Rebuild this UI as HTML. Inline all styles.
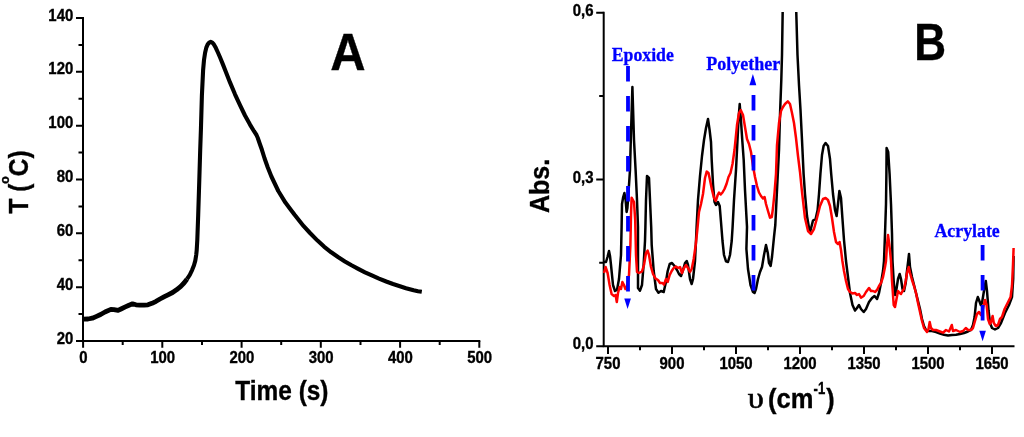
<!DOCTYPE html>
<html><head><meta charset="utf-8"><title>Figure</title>
<style>
html,body{margin:0;padding:0;background:#fff;}
body{width:1024px;height:437px;overflow:hidden;}
svg{display:block;filter:blur(0.45px);}
.sb{font-family:"Liberation Sans",Arial,sans-serif;font-weight:bold;fill:#000;stroke:#000;stroke-width:0.35px;}
.tb{font-family:"Liberation Serif","Times New Roman",serif;font-weight:bold;fill:#0000ff;stroke:#0000ff;stroke-width:0.3px;}
</style></head><body>
<svg width="1024" height="437" viewBox="0 0 1024 437">
<rect width="1024" height="437" fill="#fff"/>

<g stroke="#000" stroke-width="2" fill="none" stroke-linecap="butt">
<path d="M83.0 17.0V341.0H480.3"/>
<path d="M76.0 341.0H83.0M76.0 287.2H83.0M76.0 233.3H83.0M76.0 179.5H83.0M76.0 125.7H83.0M76.0 71.8H83.0M76.0 18.0H83.0M78.5 314.1H83.0M78.5 260.2H83.0M78.5 206.4H83.0M78.5 152.6H83.0M78.5 98.7H83.0M78.5 44.9H83.0M83.1 341.0V347.8M162.3 341.0V347.8M241.6 341.0V347.8M320.8 341.0V347.8M400.1 341.0V347.8M479.3 341.0V347.8M122.7 341.0V345.0M202.0 341.0V345.0M281.2 341.0V345.0M360.5 341.0V345.0M439.7 341.0V345.0"/>
</g>
<text class="sb" font-size="16" text-anchor="end" transform="translate(73.3 343.5) scale(0.935 1)" >20</text>
<text class="sb" font-size="16" text-anchor="end" transform="translate(73.3 289.7) scale(0.935 1)" >40</text>
<text class="sb" font-size="16" text-anchor="end" transform="translate(73.3 235.8) scale(0.935 1)" >60</text>
<text class="sb" font-size="16" text-anchor="end" transform="translate(73.3 182.0) scale(0.935 1)" >80</text>
<text class="sb" font-size="16" text-anchor="end" transform="translate(73.3 128.2) scale(0.935 1)" >100</text>
<text class="sb" font-size="16" text-anchor="end" transform="translate(73.3 74.3) scale(0.935 1)" >120</text>
<text class="sb" font-size="16" text-anchor="end" transform="translate(73.3 20.5) scale(0.935 1)" >140</text>
<text class="sb" font-size="16" text-anchor="middle" transform="translate(83.4 363.2) scale(0.935 1)" >0</text>
<text class="sb" font-size="16" text-anchor="middle" transform="translate(162.6 363.2) scale(0.935 1)" >100</text>
<text class="sb" font-size="16" text-anchor="middle" transform="translate(241.9 363.2) scale(0.935 1)" >200</text>
<text class="sb" font-size="16" text-anchor="middle" transform="translate(321.1 363.2) scale(0.935 1)" >300</text>
<text class="sb" font-size="16" text-anchor="middle" transform="translate(400.4 363.2) scale(0.935 1)" >400</text>
<text class="sb" font-size="16" text-anchor="middle" transform="translate(479.6 363.2) scale(0.935 1)" >500</text>
<text class="sb" font-size="27" text-anchor="middle" transform="translate(281.9 400.0) scale(0.905 1)" >Time (s)</text>
<text class="sb" font-size="27" text-anchor="middle" transform="translate(27.5 182) rotate(-90) scale(0.905 1)">T (<tspan font-size="13.5" dy="-18.3">o</tspan><tspan dy="18.3">C)</tspan></text>
<text class="sb" font-size="51" text-anchor="middle" transform="translate(347.8 70.1) scale(0.96 1)">A</text>
<polyline points="83.5,319.2 88.0,319.0 92.3,318.2 96.0,316.6 100.6,314.5 105.0,312.0 110.9,309.4 114.0,309.6 118.1,310.4 121.0,309.0 125.3,306.9 129.0,305.2 132.5,303.8 136.0,304.8 139.7,305.2 144.0,305.1 147.9,304.8 152.0,303.3 156.1,301.3 160.0,299.0 164.4,296.6 168.0,294.8 172.6,292.5 176.5,289.8 180.8,286.3 184.0,283.0 187.0,279.1" fill="none" stroke="#000" stroke-width="4.8" stroke-linejoin="round" stroke-linecap="butt"/>
<polyline points="187.0,279.1 189.8,274.8 192.2,269.8 194.0,265.2 195.3,260.6 196.2,255.0 196.7,250.3 197.3,240.0 198.2,215.0 199.3,180.0 200.2,150.0 200.9,129.9 201.9,95.4 203.1,70.3 204.0,60.0 205.1,52.7 206.3,47.6 207.7,44.4 209.2,42.6 210.7,41.9 212.3,42.6 213.9,44.4 215.8,47.8 217.7,52.0 220.0,57.3 223.0,64.6 226.0,72.2 230.0,82.4 235.0,94.3 240.0,105.2 245.0,115.5 250.0,124.6 254.0,131.2 256.5,135.0 257.8,138.0 259.5,143.0 261.9,149.8 264.6,158.5 267.8,167.5 271.4,176.5 278.3,191.0 285.4,202.6 290.4,209.2 294.6,214.8 303.7,226.2 310.0,233.0 317.5,240.6 324.0,246.6 331.2,252.3 338.0,257.0 344.9,261.4 351.5,265.3 358.7,269.1 365.0,272.3 372.4,275.7 379.0,278.6 386.2,281.5 393.0,284.0 399.9,286.2 406.0,288.2 413.6,290.3 418.0,291.2 421.8,291.8" fill="none" stroke="#000" stroke-width="4.1" stroke-linejoin="round" stroke-linecap="butt"/>
<g stroke="#000" stroke-width="2" fill="none">
<path d="M603.7 11.8V346.2H1014.5"/>
<path d="M596.2 346.2H603.7M596.2 179.5H603.7M596.2 12.8H603.7M599.2 262.8H603.7M599.2 96.1H603.7M608.0 346.2V354.0M672.0 346.2V354.0M736.0 346.2V354.0M800.0 346.2V354.0M864.0 346.2V354.0M928.0 346.2V354.0M992.0 346.2V354.0M640.0 346.2V350.2M704.0 346.2V350.2M768.0 346.2V350.2M832.0 346.2V350.2M896.0 346.2V350.2M960.0 346.2V350.2"/>
</g>
<text class="sb" font-size="16" text-anchor="end" transform="translate(593.5 349.2) scale(0.935 1)" >0,0</text>
<text class="sb" font-size="16" text-anchor="end" transform="translate(593.5 182.5) scale(0.935 1)" >0,3</text>
<text class="sb" font-size="16" text-anchor="end" transform="translate(593.5 15.8) scale(0.935 1)" >0,6</text>
<text class="sb" font-size="16" text-anchor="middle" transform="translate(608.0 368.8) scale(0.935 1)" >750</text>
<text class="sb" font-size="16" text-anchor="middle" transform="translate(672.0 368.8) scale(0.935 1)" >900</text>
<text class="sb" font-size="16" text-anchor="middle" transform="translate(736.0 368.8) scale(0.935 1)" >1050</text>
<text class="sb" font-size="16" text-anchor="middle" transform="translate(800.0 368.8) scale(0.935 1)" >1200</text>
<text class="sb" font-size="16" text-anchor="middle" transform="translate(864.0 368.8) scale(0.935 1)" >1350</text>
<text class="sb" font-size="16" text-anchor="middle" transform="translate(928.0 368.8) scale(0.935 1)" >1500</text>
<text class="sb" font-size="16" text-anchor="middle" transform="translate(992.0 368.8) scale(0.935 1)" >1650</text>
<text font-family="'Liberation Serif',serif" font-size="29" fill="#000" stroke="#000" stroke-width="0.6" transform="translate(747.8 408.4) scale(1.12 1)">υ</text>
<text class="sb" font-size="27" transform="translate(768.1 408.3) scale(0.945 1)">(cm</text>
<text class="sb" font-size="16" transform="translate(813.6 393.9) scale(0.82 1)">-1</text>
<text class="sb" font-size="27" transform="translate(826.2 408.3) scale(0.93 1)">)</text>
<text class="sb" font-size="27" text-anchor="middle" transform="translate(548.6 185.9) rotate(-90) scale(0.93 1)">Abs.</text>
<text class="sb" font-size="51" text-anchor="middle" transform="translate(930.2 59.9) scale(0.865 1)">B</text>
<clipPath id="cb"><rect x="603" y="12" width="412" height="335"/></clipPath>
<g clip-path="url(#cb)" fill="none" stroke-linejoin="round">
<polyline points="604.0,262.0 606.0,262.0 607.5,257.0 609.0,251.0 610.0,256.0 611.0,265.0 613.0,285.0 615.0,291.0 617.0,290.0 619.0,279.0 621.0,255.0 621.6,227.0 622.0,204.0 623.2,197.0 624.4,193.0 625.6,200.0 626.6,212.0 627.4,208.0 628.0,200.0 630.0,170.0 630.8,140.0 632.4,87.0 634.0,140.0 635.6,170.0 637.0,200.0 638.0,227.0 638.0,288.0 640.0,290.7 642.0,285.0 643.6,265.0 645.0,241.0 645.4,227.0 646.0,200.0 647.0,176.0 649.0,178.0 650.0,200.0 651.2,227.0 651.7,245.0 653.7,271.0 656.0,289.0 658.5,292.7 661.0,291.0 663.7,292.0 665.7,283.0 667.7,271.0 669.7,264.0 672.0,263.0 674.5,266.0 677.0,270.0 679.0,274.0 681.0,276.0 683.0,270.0 685.0,263.0 686.7,261.0 688.0,265.0 690.0,279.0 691.7,284.0 693.0,279.0 695.0,261.0 696.0,241.0 696.6,227.0 698.0,200.0 700.0,176.0 702.0,156.0 704.0,140.0 706.0,128.0 708.0,119.0 709.6,130.0 711.0,142.0 711.7,160.0 713.0,184.0 714.5,202.0 716.0,205.0 718.0,202.0 719.7,206.0 721.0,222.0 722.5,241.0 724.0,255.0 726.0,261.4 728.0,262.0 730.0,255.0 731.7,241.0 732.6,227.0 734.0,200.0 736.0,170.0 737.4,142.0 738.6,118.0 739.7,104.0 741.0,121.0 742.4,142.0 743.7,160.0 745.0,190.0 747.0,227.0 746.4,249.0 748.0,269.0 750.5,285.0 753.0,292.0 754.5,293.0 756.0,289.0 758.0,279.0 760.0,272.0 762.0,267.0 764.0,255.0 766.0,245.0 767.8,253.0 769.0,263.0 770.6,266.0 772.0,257.0 774.0,237.0 775.3,225.0 777.0,190.0 779.0,150.0 780.0,115.0 781.3,80.0 782.0,55.0 782.7,10.0 796.2,10.0 797.5,55.0 799.0,85.0 800.5,110.0 802.0,140.0 803.6,174.0 805.0,194.0 807.0,216.0 809.0,228.0 810.2,231.5 811.6,226.0 813.0,220.5 815.6,219.0 817.6,210.0 819.0,194.0 820.4,174.0 822.0,155.0 823.6,146.0 825.6,143.0 828.0,146.0 830.0,159.0 831.2,174.0 833.0,194.0 835.0,210.0 836.6,216.0 838.0,204.0 839.4,191.0 841.0,198.0 842.4,218.0 844.0,240.0 846.0,261.0 848.0,277.0 850.0,293.0 852.5,305.0 855.0,310.6 857.0,308.0 859.0,305.0 861.0,309.0 863.7,312.0 866.0,309.0 869.0,302.0 872.0,298.0 874.5,296.0 877.0,299.0 879.0,293.0 881.0,283.0 883.0,271.0 884.0,261.0 885.0,234.0 886.0,204.0 886.4,174.0 886.6,148.0 888.2,152.0 889.6,174.0 891.0,204.0 892.0,234.0 892.5,261.0 893.7,281.0 895.0,295.0 896.5,289.0 898.0,279.0 899.7,274.0 901.0,279.0 902.5,289.0 904.0,291.0 905.7,283.0 907.0,271.0 908.2,261.0 909.0,254.0 910.0,267.0 912.0,277.0 914.0,285.0 916.0,293.0 918.0,301.0 920.0,309.0 922.0,319.0 924.0,326.0 926.0,330.0 929.0,331.0 932.0,331.0 936.0,332.0 940.0,333.5 944.0,334.7 948.0,335.5 952.0,335.0 956.0,334.7 960.0,334.0 964.0,333.0 968.0,331.5 971.0,330.0 973.0,325.0 974.6,317.0 976.0,303.0 977.8,297.0 979.0,300.0 980.8,305.0 982.0,303.0 983.0,297.0 984.6,287.0 985.8,281.0 987.0,291.0 988.6,311.0 990.0,323.0 992.0,328.0 995.0,329.5 998.0,328.0 1001.0,323.0 1003.0,318.0 1005.0,313.0 1009.0,305.0 1012.0,297.0 1013.2,279.0 1013.6,256.0" stroke="#000" stroke-width="2.5"/>
<polyline points="604.0,273.0 605.6,267.0 607.6,273.0 609.6,285.0 611.6,294.0 614.0,296.0 615.6,295.0 616.8,302.0 618.0,293.0 619.6,287.0 621.0,289.0 622.4,282.0 624.0,285.0 625.4,289.0 627.0,287.0 629.0,275.0 630.4,245.0 631.0,215.0 631.6,197.7 634.0,202.0 635.2,220.0 636.0,255.0 637.0,272.0 639.0,273.0 642.0,271.4 644.0,265.0 646.0,253.0 647.6,250.6 649.0,255.0 651.0,267.0 653.0,274.0 655.6,278.6 658.0,280.0 660.0,283.0 662.5,283.0 664.0,284.6 666.0,279.0 667.7,282.0 669.7,275.0 671.7,271.0 673.7,268.0 676.0,266.6 678.0,268.0 680.0,267.0 682.0,273.0 684.0,268.0 686.0,265.0 688.0,268.0 690.0,272.0 691.7,269.0 693.7,259.0 695.7,245.0 697.4,229.0 699.0,212.0 701.0,204.0 703.0,194.0 705.0,178.0 706.7,171.6 708.5,173.0 710.0,180.0 712.0,190.0 714.0,198.0 715.7,201.0 717.7,195.0 719.0,192.5 720.7,194.5 722.5,192.5 724.5,189.0 726.5,184.0 728.5,177.0 730.5,173.0 732.5,164.0 734.5,150.0 737.0,125.0 739.0,113.0 740.7,110.0 743.0,115.0 745.0,127.0 747.0,139.0 749.0,144.0 751.0,152.0 753.0,166.0 755.0,177.0 757.0,186.0 759.0,192.5 761.0,196.0 763.0,198.5 764.6,197.0 766.0,204.0 768.0,211.0 770.0,217.7 771.8,217.0 773.0,208.0 774.6,192.0 776.0,174.0 777.0,145.0 779.0,123.0 781.0,111.0 783.0,107.0 785.0,104.0 787.8,101.4 790.0,104.0 792.0,113.0 794.0,123.0 796.0,138.0 798.0,156.0 800.0,172.0 802.0,192.0 805.0,218.0 808.0,231.0 811.0,234.0 814.0,229.0 817.0,218.0 820.0,206.0 823.0,199.0 825.6,198.0 828.0,200.0 830.0,206.0 832.0,218.0 834.0,232.0 836.0,242.0 838.0,244.0 839.6,242.0 841.0,250.0 842.4,261.0 844.0,271.0 846.0,281.0 848.0,289.0 850.0,292.0 852.5,293.4 855.0,293.0 857.0,295.0 859.0,294.0 861.0,297.6 863.7,296.0 866.0,292.0 869.0,288.0 871.0,291.0 873.0,291.0 875.0,292.0 877.0,290.0 879.0,286.0 881.0,283.0 883.0,277.0 885.0,267.0 886.0,261.0 887.0,245.0 888.0,235.0 889.4,245.0 891.0,261.0 892.0,281.0 893.7,305.0 895.0,307.0 896.5,299.0 898.0,291.0 899.7,293.0 901.0,294.0 902.5,291.0 904.0,289.0 905.7,281.0 907.0,273.0 908.7,267.0 910.0,273.0 912.0,280.0 914.0,286.0 916.0,293.0 918.0,303.0 920.0,312.0 922.0,321.0 924.0,328.0 927.0,332.0 928.5,329.0 929.7,322.0 931.0,328.0 933.0,330.0 936.0,330.0 940.0,331.5 943.0,332.7 946.0,330.0 949.0,331.5 951.8,325.0 953.0,331.0 956.0,330.0 960.0,332.0 963.0,331.0 965.8,328.0 968.0,330.0 971.0,330.0 973.0,328.0 975.0,321.0 977.0,314.0 979.0,312.0 981.0,315.0 982.4,311.0 983.8,305.0 985.0,300.0 986.6,305.0 988.0,319.0 989.8,324.0 991.0,322.0 992.6,316.0 993.8,323.0 995.8,326.0 998.0,325.0 1000.0,319.0 1002.0,317.0 1004.6,309.0 1007.6,303.0 1010.6,297.0 1012.0,285.5 1013.0,264.6 1013.6,248.0" stroke="#ff0000" stroke-width="2.5"/>
</g>
<g stroke="#0000ff" stroke-width="3.8" fill="none" stroke-dasharray="15.5 14.5">
<path d="M628 66V292"/>
<path d="M753.5 95V292"/>
<path d="M982.6 245V322"/>
</g>
<g fill="#0000ff">
<path d="M624.3 298.5h6.6l-3.3 10.5z"/>
<path d="M749.4 85.2h6.9l-3.4-11.2z"/>
<path d="M979.3 330.7h6.6l-3.3 10.5z"/>
</g>
<text class="tb" font-size="19" text-anchor="start" transform="translate(611.7 60.6) scale(0.935 1)" >Epoxide</text>
<text class="tb" font-size="19" text-anchor="start" transform="translate(706.2 70.0) scale(0.95 1)" >Polyether</text>
<text class="tb" font-size="19" text-anchor="start" transform="translate(934.5 237.0) scale(0.938 1)" >Acrylate</text>
</svg></body></html>
